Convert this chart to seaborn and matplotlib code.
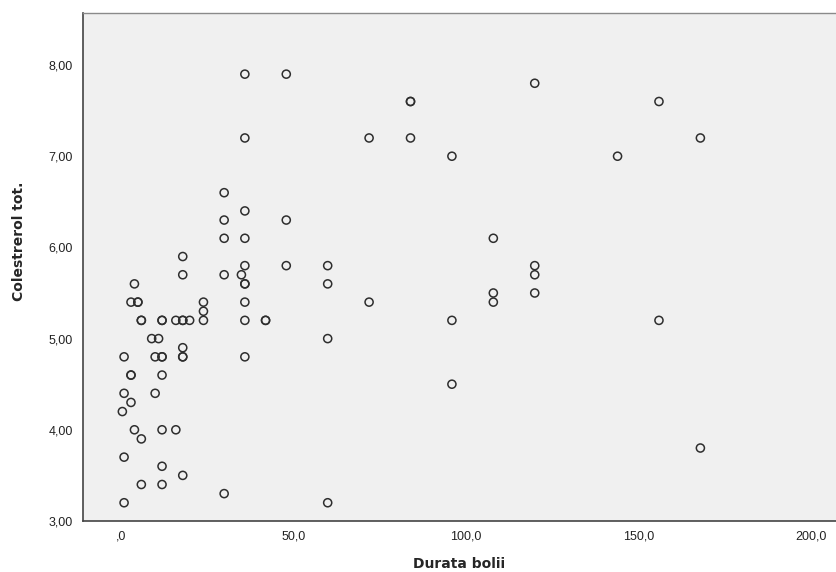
import numpy as np
import pandas as pd
import matplotlib
matplotlib.use("Agg")
import matplotlib.pyplot as plt
import seaborn as sns
from matplotlib.ticker import FuncFormatter

# Durata bolii (luni) si colesterol total
durata = [36, 48, 120, 84, 84, 156, 36, 72, 84, 168, 96, 144,
          30, 36, 30, 48, 30, 36, 108, 18, 36, 48, 60, 120,
          18, 30, 35, 120, 4, 36, 36, 60, 108, 120,
          3, 5, 5, 24, 36, 72, 108, 24,
          6, 6, 12, 12, 16, 18, 18, 20, 24, 36, 42, 42, 96, 156,
          9, 11, 60, 18, 1, 10, 12, 12, 18, 18, 36,
          3, 3, 12, 96, 1, 10, 3, 0.5, 4, 12, 16, 6, 168,
          1, 12, 18, 6, 12, 30, 1, 60]
colesterol = [7.9, 7.9, 7.8, 7.6, 7.6, 7.6, 7.2, 7.2, 7.2, 7.2, 7.0, 7.0,
              6.6, 6.4, 6.3, 6.3, 6.1, 6.1, 6.1, 5.9, 5.8, 5.8, 5.8, 5.8,
              5.7, 5.7, 5.7, 5.7, 5.6, 5.6, 5.6, 5.6, 5.5, 5.5,
              5.4, 5.4, 5.4, 5.4, 5.4, 5.4, 5.4, 5.3,
              5.2, 5.2, 5.2, 5.2, 5.2, 5.2, 5.2, 5.2, 5.2, 5.2, 5.2, 5.2, 5.2, 5.2,
              5.0, 5.0, 5.0, 4.9, 4.8, 4.8, 4.8, 4.8, 4.8, 4.8, 4.8,
              4.6, 4.6, 4.6, 4.5, 4.4, 4.4, 4.3, 4.2, 4.0, 4.0, 4.0, 3.9, 3.8,
              3.7, 3.6, 3.5, 3.4, 3.4, 3.3, 3.2, 3.2]

x_ticks = [0, 50, 100, 150, 200]
y_ticks = [3, 4, 5, 6, 7, 8]

df = pd.DataFrame({"Durata bolii": durata, "Colestrerol tot.": colesterol})

sns.set_style("white")
plt.rcParams["font.family"] = ["Liberation Sans", "DejaVu Sans"]

fig = plt.figure(figsize=(8.36, 5.72), dpi=100)
ax = fig.add_axes([0.0993, 0.0892, 0.9007, 0.888])
ax.set_facecolor("#f0f0f0")

sns.scatterplot(data=df, x="Durata bolii", y="Colestrerol tot.", ax=ax,
                marker="o", s=34, facecolor="none", edgecolor="#2e2e2e",
                linewidth=1.1)

ax.set_xlim(-10.9, 207.3)
ax.set_ylim(3.0, 8.57)
ax.set_xticks(x_ticks)
ax.set_yticks(y_ticks)


def fmt_x(v, pos):
    s = f"{v:.1f}".replace(".", ",")
    if s.startswith("0,"):
        s = s[1:]
    return s


ax.xaxis.set_major_formatter(FuncFormatter(fmt_x))
ax.yaxis.set_major_formatter(FuncFormatter(lambda v, p: f"{v:.2f}".replace(".", ",")))

for side in ["left", "bottom"]:
    ax.spines[side].set_color("#444444")
    ax.spines[side].set_linewidth(1.2)
ax.spines["top"].set_color("#8a8a8a")
ax.spines["top"].set_linewidth(1.0)
ax.spines["right"].set_visible(False)

ax.tick_params(axis="y", direction="out", length=6.5, width=1.2, color="#444444",
               labelsize=9, labelcolor="#222222", pad=1)
ax.tick_params(axis="x", direction="out", length=5, width=1.2, color="#444444",
               labelsize=9, labelcolor="#222222", pad=2)

ax.set_xlabel("Durata bolii", fontsize=10, fontweight="bold", family="DejaVu Sans",
              labelpad=10)
ax.set_ylabel("Colestrerol tot.", fontsize=10, fontweight="bold", family="DejaVu Sans")
ax.yaxis.set_label_coords(-0.076, 0.55)

fig.savefig("out.png", dpi=100, facecolor="white")
